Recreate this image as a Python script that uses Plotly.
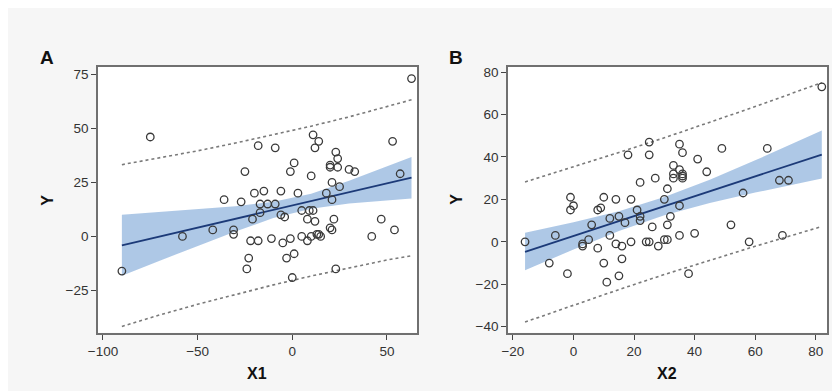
import plotly.graph_objects as go

# ---------------- Panel A data ----------------
x1 = [63, -75, 11, 14, -18, -9, 12, 53, 23, 24, 1, 20, 20, 24, 30, 33, -1, -25, 57, 10,
      21, 25, -36, -27, -20, -15, -6, 3, 18, 21, -17, -13, -9, -17, -6, -4, 5, 9, 11, -21,
      8, 12, 22, 47, 20, 21, -42, -31, -31, 54, 42, -58, -90, -22, -18, -11, -5, -1, 5, 8,
      10, 13, 14, 15, -23, -24, -3, 1, 0, 23]
y1 = [73, 46, 47, 44, 42, 41, 41, 44, 39, 36, 34, 33, 32, 32, 31, 30, 30, 30, 29, 28,
      25, 23, 17, 16, 20, 21, 21, 20, 20, 17, 15, 15, 15, 11, 10, 9, 12, 12, 12, 8,
      8, 7, 8, 8, 4, 3, 3, 3, 1, 3, 0, 0, -16, -2, -2, -1, -3, -1, 0, -2,
      0, 1, 1, 0, -10, -15, -10, -8, -19, -15]

fitA_x = [-90, -70, -50, -30, -10, 10, 30, 50, 63]
fitA_y = [-4.1, 0.0, 4.1, 8.2, 12.3, 16.3, 20.4, 24.5, 27.2]
ciA_up = [10.0, 11.3, 12.6, 14.0, 16.1, 19.8, 25.7, 32.3, 36.7]
ciA_lo = [-18.2, -11.2, -4.4, 2.3, 8.5, 12.8, 15.2, 16.7, 17.6]
piA_up = [33.2, 36.3, 39.6, 43.2, 47.0, 51.0, 55.3, 59.9, 63.2]
piA_lo = [-41.6, -36.3, -31.4, -26.8, -22.4, -18.3, -14.5, -10.9, -8.9]

# ---------------- Panel B data ----------------
x2 = [82, 25, 35, 36, 18, 25, 49, 64, 41, 33, 35, 44, 33, 36, 36, 36, 33, 22, 27, 68,
      71, 31, 56, -1, 0, -1, 10, 14, 19, 30, 35, 8, 9, 21, 12, 15, 22, 32, 17, 22,
      6, 26, 31, 52, -6, 12, 35, 40, 69, -16, -8, -2, 3, 3, 5, 8, 10, 11, 14, 16,
      15, 16, 19, 24, 25, 28, 30, 31, 38, 58]
y2 = [73, 47, 46, 42, 41, 41, 44, 44, 39, 36, 34, 33, 32, 32, 31, 30, 30, 28, 30, 29,
      29, 25, 23, 21, 17, 15, 21, 20, 20, 20, 17, 15, 16, 15, 11, 12, 12, 12, 9, 10,
      8, 7, 8, 8, 3, 3, 3, 4, 3, 0, -10, -15, -1, -2, 1, -3, -10, -19, -1, -2,
      -16, -8, 0, 0, 0, -2, 1, 1, -15, 0]

fitB_x = [-16, 0, 15, 30, 45, 60, 82]
fitB_y = [-4.7, 2.8, 9.8, 16.8, 23.8, 30.8, 41.1]
ciB_up = [4.3, 9.2, 14.4, 21.1, 29.3, 38.4, 52.4]
ciB_lo = [-13.4, -3.6, 5.1, 12.5, 18.3, 23.2, 29.8]
piB_up = [28.2, 35.3, 42.1, 49.0, 56.2, 63.7, 75.0]
piB_lo = [-37.8, -29.8, -22.5, -15.4, -8.6, -2.1, 7.2]

BAND = "rgba(160,190,226,0.85)"
LINE = "#1c3a78"
DASH = "#7a7a7a"
PT = "#3a3a3a"

fig = go.Figure()


def add_panel(xs, ys, fx, fy, cu, cl, pu, pl, xa, ya):
    fig.add_trace(go.Scatter(x=fx + fx[::-1], y=cu + cl[::-1], fill="toself",
                             fillcolor=BAND, line=dict(width=0), mode="lines",
                             hoverinfo="skip", xaxis=xa, yaxis=ya, showlegend=False))
    fig.add_trace(go.Scatter(x=fx, y=pu, mode="lines", xaxis=xa, yaxis=ya,
                             line=dict(color=DASH, width=1.6, dash="3px,3px"),
                             showlegend=False))
    fig.add_trace(go.Scatter(x=fx, y=pl, mode="lines", xaxis=xa, yaxis=ya,
                             line=dict(color=DASH, width=1.6, dash="3px,3px"),
                             showlegend=False))
    fig.add_trace(go.Scatter(x=fx, y=fy, mode="lines", xaxis=xa, yaxis=ya,
                             line=dict(color=LINE, width=1.8), showlegend=False))
    fig.add_trace(go.Scatter(x=xs, y=ys, mode="markers", xaxis=xa, yaxis=ya,
                             marker=dict(symbol="circle-open", size=7.5,
                                         color=PT, line=dict(width=1.3, color=PT)),
                             showlegend=False))


add_panel(x1, y1, fitA_x, fitA_y, ciA_up, ciA_lo, piA_up, piA_lo, "x", "y")
add_panel(x2, y2, fitB_x, fitB_y, ciB_up, ciB_lo, piB_up, piB_lo, "x2", "y2")

W, H = 840, 391
ydom = [1 - 326 / H, 1 - 57.3 / H]
axis_common = dict(showline=True, mirror=True, linecolor="#707070", linewidth=1.8,
                   ticks="outside", ticklen=5, tickwidth=1, tickcolor="#444",
                   showgrid=False, zeroline=False,
                   tickfont=dict(family="Liberation Sans, Arial", size=13.5, color="#333"))

fig.update_layout(
    width=W, height=H,
    margin=dict(l=0, r=0, t=0, b=0),
    paper_bgcolor="#f6f6f6", plot_bgcolor="white",
    xaxis=dict(domain=[81 / W, 404 / W], range=[-102.6, 66.0],
               tickvals=[-100, -50, 0, 50], anchor="y", **axis_common),
    yaxis=dict(domain=ydom, range=[-44.5, 78.5],
               tickvals=[-25, 0, 25, 50, 75], anchor="x", **axis_common),
    xaxis2=dict(domain=[496 / W, 819 / W], range=[-21.6, 83.8],
                tickvals=[-20, 0, 20, 40, 60, 80], anchor="y2", **axis_common),
    yaxis2=dict(domain=ydom, range=[-42.8, 82.5],
                tickvals=[-40, -20, 0, 20, 40, 60, 80], anchor="x2", **axis_common),
)

title_font = dict(family="Liberation Sans, Arial", size=16, color="#111")
panel_font = dict(family="Liberation Sans, Arial", size=19, color="#111")


def ann(text, px, py, font, angle=0):
    fig.add_annotation(text=text, x=px / W, y=1 - py / H, xref="paper", yref="paper",
                       showarrow=False, font=font, textangle=angle,
                       xanchor="center", yanchor="middle")


ann("<b>A</b>", 29, 48, panel_font)
ann("<b>B</b>", 443, 48, panel_font)
ann("<b>X1</b>", 242, 367, title_font)
ann("<b>X2</b>", 657, 367, title_font)
ann("<b>Y</b>", 29, 192, title_font, -90)
ann("<b>Y</b>", 443, 191, title_font, -90)

fig.write_html("out.html")
